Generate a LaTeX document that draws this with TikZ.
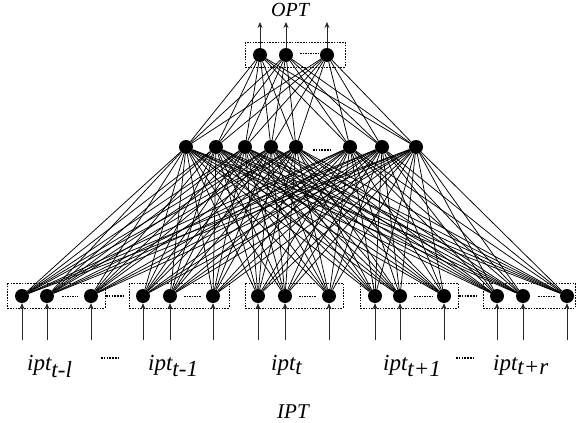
\documentclass[tikz,border=0pt]{standalone}
\usepackage{fontspec}
\setmainfont{Liberation Serif}
\usetikzlibrary{arrows.meta}
\begin{document}
\begin{tikzpicture}[x=1pt,y=-1pt,
  neuron/.style={circle,fill=black,inner sep=0pt,minimum width=14pt,minimum height=13pt},
  grp/.style={draw,line width=0.7pt,dash pattern=on 1.6pt off 1.2pt},
  link/.style={line width=0.75pt},
  feed/.style={line width=0.8pt,draw=black!85,-{Stealth[length=6pt,width=5pt]}},
  gap/.style={line width=0.8pt,dash pattern=on 1.5pt off 1pt},
  biggap/.style={line width=1.6pt,dash pattern=on 1.6pt off 1.2pt},
  lbl/.style={font=\fontsize{23}{26}\selectfont\itshape,inner sep=0pt,anchor=base west}]
\useasboundingbox (0,0) rectangle (579,423);

% input layer groups
\foreach \i/\x in {1/22,2/47,3/91,4/143,5/170,6/213,7/258,8/285,9/329,10/375,11/400,12/444,13/497,14/523,15/567}
  \node[neuron] (in\i) at (\x,296) {};
% hidden layer
\foreach \i/\x in {1/186,2/216,3/245,4/271,5/296,6/350,7/382,8/416}
  \node[neuron] (h\i) at (\x,147) {};
% output layer
\foreach \i/\x in {1/260,2/286,3/327}
  \node[neuron] (o\i) at (\x,55) {};

% dotted group frames
\foreach \a/\b in {7/105,129/229,245/343,360/458,483/575}
  \draw[grp] (\a,283) rectangle (\b,308);
\draw[grp] (245,42) rectangle (345,67);

% full connections
\foreach \i in {1,...,15}
  \foreach \j in {1,...,8}
    \draw[link] (in\i) -- (h\j);
\foreach \j in {1,...,8}
  \foreach \k in {1,2,3}
    \draw[link] (h\j) -- (o\k);

% omitted units
\foreach \a/\b in {62/78,184/201,299/316,414/432,538/555}
  \draw[gap] (\a,296) -- (\b,296);
\draw[biggap] (106,296) -- (123,296);
\draw[biggap] (459,296) -- (478,296);
\draw[biggap] (313,150) -- (330,150);
\draw[gap] (300,53) -- (318,53);

% inputs and outputs
\foreach \i/\x in {1/22,2/47,3/91,4/143,5/170,6/213,7/258,8/285,9/329,10/375,11/400,12/444,13/497,14/523,15/567}
  \coordinate (src\i) at (\x,340);
\foreach \i in {1,...,15}
  \draw[feed] (src\i) -- (in\i.south);
\foreach \i/\x in {1/260,2/286,3/327}
{
  \coordinate (dst\i) at (\x,22);
  \draw[feed] (o\i.north) -- (dst\i);
}

% labels
\node[lbl] (t1) at (27,370) {ipt$_{\textit{t-l}}$};
\node[lbl] (t2) at (148,370) {ipt$_{\textit{t-1}}$};
\node[lbl] (t3) at (271,370) {ipt$_{\textit{t}}$};
\node[lbl] (t4) at (383,370) {ipt$_{\textit{t+1}}$};
\node[lbl] (t5) at (493,370) {ipt$_{\textit{t+r}}$};
\draw[biggap,line width=1.3pt] (101,358) -- (119,358);
\draw[biggap,line width=1.3pt] (456,358) -- (474,358);
\node[lbl,font=\fontsize{21}{24}\selectfont\itshape] (ipt) at (277,418) {IPT};
\node[lbl,font=\fontsize{20}{24}\selectfont\itshape] (opt) at (271,16.5) {OPT};
\end{tikzpicture}
\end{document}
